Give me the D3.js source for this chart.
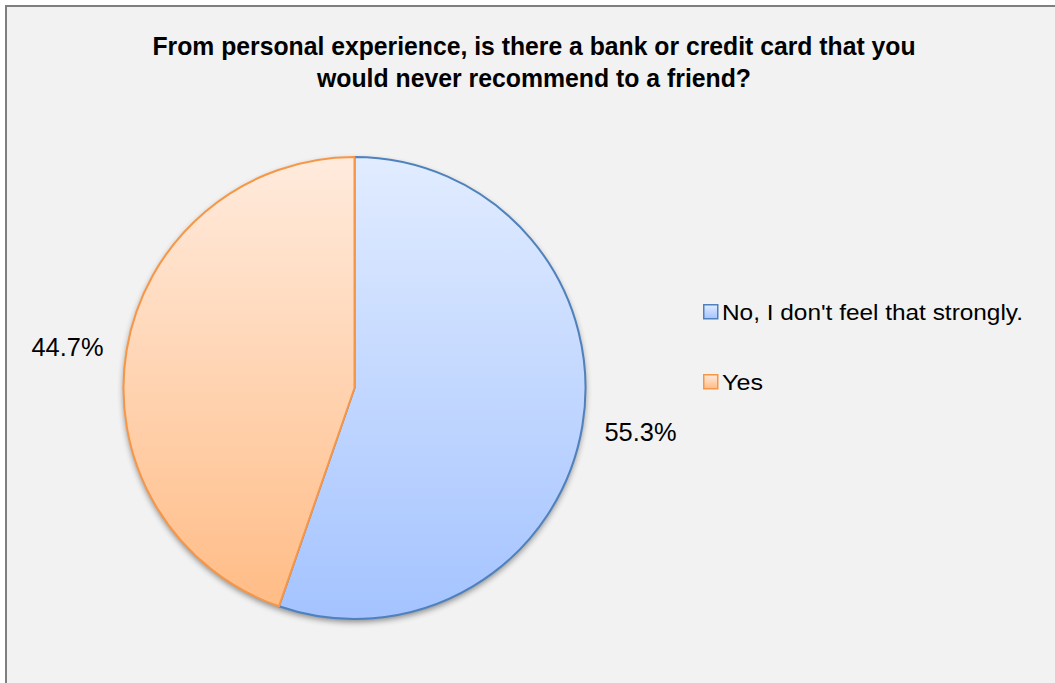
<!DOCTYPE html>
<html>
<head>
<meta charset="utf-8">
<script src="https://cdn.jsdelivr.net/npm/d3@7"></script>
<style>
  html, body { margin: 0; padding: 0; background: #ffffff; }
  svg { display: block; }
</style>
</head>
<body>
<svg id="chart" width="1055" height="683"></svg>
<script>
// Survey answers and their shares (percent)
const categories = ["No, I don't feel that strongly.", "Yes"];
const values = [55.3, 44.7];
const valueLabels = ["55.3%", "44.7%"];
const titleLines = [
  "From personal experience, is there a bank or credit card that you",
  "would never recommend to a friend?"
];

const W = 1055, H = 683;
const FONT = "Liberation Sans, Arial, sans-serif";
const svg = d3.select("#chart");
const defs = svg.append("defs");

// Chart area with frame
svg.append("rect").attr("x", 5).attr("y", 5).attr("width", W - 5).attr("height", H - 5)
  .attr("fill", "#f2f2f2");
svg.append("line").attr("x1", 6).attr("x2", 6).attr("y1", 5).attr("y2", H)
  .attr("stroke", "#7f7f7f").attr("stroke-width", 2);
svg.append("line").attr("x1", 5).attr("x2", W).attr("y1", 6).attr("y2", 6)
  .attr("stroke", "#7f7f7f").attr("stroke-width", 2);

// Title (two centred lines)
const titleWidths = [763, 434];
svg.selectAll("text.title").data(titleLines).join("text")
  .attr("class", "title")
  .attr("x", 534)
  .attr("y", (d, i) => 55 + i * 32)
  .attr("text-anchor", "middle")
  .attr("font-family", FONT)
  .attr("font-weight", "bold")
  .attr("font-size", 25)
  .attr("textLength", (d, i) => titleWidths[i])
  .attr("lengthAdjust", "spacingAndGlyphs")
  .attr("fill", "#000")
  .text(d => d);

// Slice fills: vertical gradients across the pie
const colors = [
  { top: "#e1ecff", bottom: "#a4c3ff", stroke: "#4f81bd" },
  { top: "#ffebdd", bottom: "#ffbb84", stroke: "#f79646" }
];
const cx = 354.5, cy = 388, r = 231;
colors.forEach((c, i) => {
  const g = defs.append("linearGradient").attr("id", "grad" + i)
    .attr("gradientUnits", "userSpaceOnUse")
    .attr("x1", 0).attr("y1", -r).attr("x2", 0).attr("y2", r);
  g.append("stop").attr("offset", "0%").attr("stop-color", c.top);
  g.append("stop").attr("offset", "100%").attr("stop-color", c.bottom);
  const lg = defs.append("linearGradient").attr("id", "lg" + i)
    .attr("x1", 0).attr("y1", 0).attr("x2", 0).attr("y2", 1);
  lg.append("stop").attr("offset", "0%").attr("stop-color", c.top);
  lg.append("stop").attr("offset", "100%").attr("stop-color", c.bottom);
});

// Soft drop shadow under the pie
const f = defs.append("filter").attr("id", "shadow")
  .attr("x", "-10%").attr("y", "-10%").attr("width", "120%").attr("height", "120%");
f.append("feGaussianBlur").attr("in", "SourceAlpha").attr("stdDeviation", 3).attr("result", "b");
f.append("feOffset").attr("in", "b").attr("dx", 0).attr("dy", 3).attr("result", "o");
f.append("feComponentTransfer").attr("in", "o").attr("result", "s")
  .append("feFuncA").attr("type", "linear").attr("slope", 0.45);
const m = f.append("feMerge");
m.append("feMergeNode").attr("in", "s");
m.append("feMergeNode").attr("in", "SourceGraphic");

const pie = d3.pie().sort(null).value(d => d);
const arcs = pie(values);
const arc = d3.arc().innerRadius(0).outerRadius(r);

const pieG = svg.append("g").attr("transform", `translate(${cx},${cy})`);
pieG.append("circle").attr("r", r).attr("fill", "#f2f2f2").attr("filter", "url(#shadow)");
pieG.selectAll("path.slice").data(arcs).join("path")
  .attr("class", "slice")
  .attr("d", arc)
  .attr("fill", (d, i) => `url(#grad${i})`)
  .attr("stroke", (d, i) => colors[i].stroke)
  .attr("stroke-width", 2)
  .attr("stroke-linejoin", "round");

// Value labels outside the slices
const labelPos = [[640.5, 441], [67.5, 356]];
svg.selectAll("text.val").data(arcs).join("text")
  .attr("class", "val")
  .attr("x", (d, i) => labelPos[i][0])
  .attr("y", (d, i) => labelPos[i][1])
  .attr("text-anchor", "middle")
  .attr("font-family", FONT)
  .attr("font-size", 26)
  .attr("textLength", 72)
  .attr("lengthAdjust", "spacingAndGlyphs")
  .attr("fill", "#000")
  .text((d, i) => valueLabels[i]);

// Legend
const legendWidths = [301, 41];
const legendY = [320, 390];
const legend = svg.append("g").attr("transform", "translate(703,0)");
categories.forEach((c, i) => {
  legend.append("rect").attr("x", 0.75).attr("y", legendY[i] - 15.25)
    .attr("width", 14).attr("height", 14)
    .attr("fill", `url(#lg${i})`)
    .attr("stroke", colors[i].stroke).attr("stroke-width", 1.5);
  legend.append("text").attr("x", 19).attr("y", legendY[i])
    .attr("font-family", FONT)
    .attr("font-size", 22)
    .attr("textLength", legendWidths[i])
    .attr("lengthAdjust", "spacingAndGlyphs")
    .attr("fill", "#000")
    .text(c);
});
</script>
</body>
</html>
